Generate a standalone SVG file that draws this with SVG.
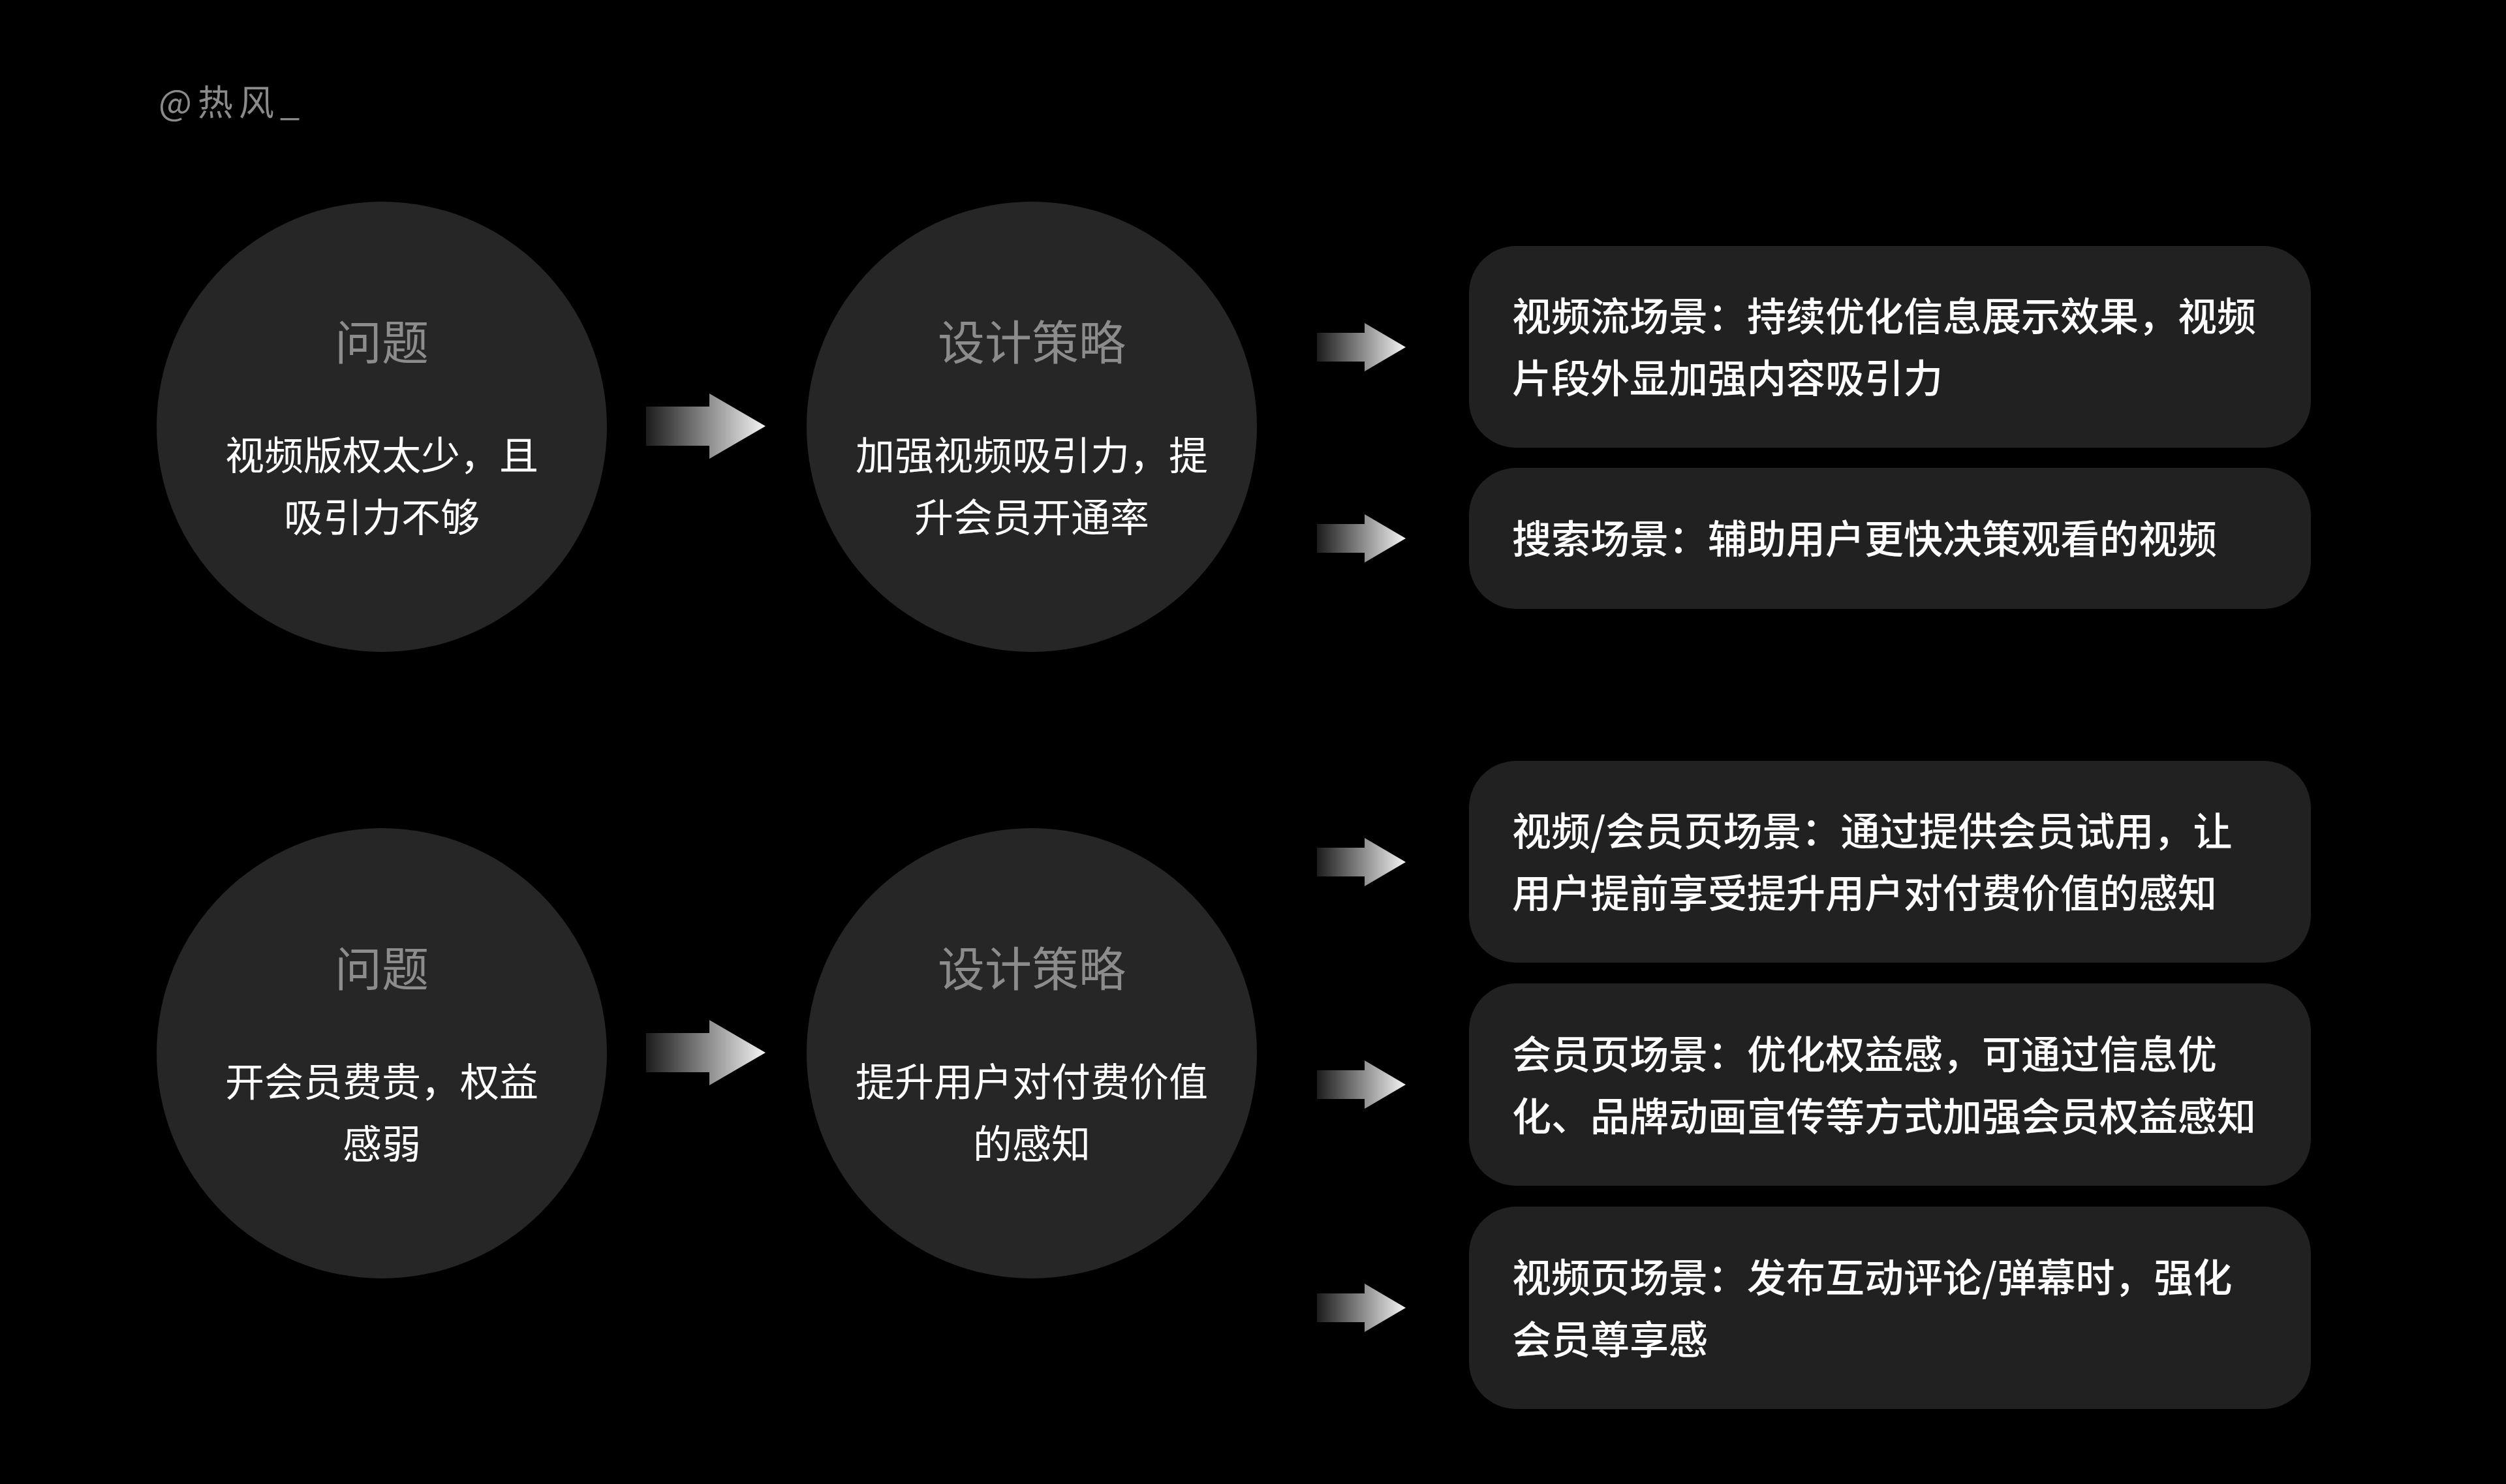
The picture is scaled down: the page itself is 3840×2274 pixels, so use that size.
<svg xmlns="http://www.w3.org/2000/svg" width="3840" height="2274" viewBox="0 0 3840 2274">
<defs>
<linearGradient id="ag" x1="0" y1="0" x2="1" y2="0">
<stop offset="0" stop-color="#1c1c1c"/>
<stop offset="1" stop-color="#f4f4f4"/>
</linearGradient>
<style>
.bg{fill:#000}
.circ{fill:#262626}
.box{fill:#212121}
.t{font-family:"Noto Sans CJK SC","Noto Sans",sans-serif}
.title{fill:#8c8c8c;font-size:72px;text-anchor:middle}
.body{fill:#ffffff;font-size:60px;text-anchor:middle}
.bt{fill:#ffffff;font-size:60px;font-weight:500}
.wm{fill:#8a8a8a;font-size:54px;letter-spacing:9px}
.arrow{fill:url(#ag)}
</style>
</defs>
<rect class="bg" x="0" y="0" width="3840" height="2274"/>
<text class="t wm" x="243" y="177">@热风_</text>

<g id="problem1">
<circle class="circ" cx="585" cy="654" r="345"/>
<text class="t title" x="585" y="551">问题</text>
<text class="t body" x="585" y="720">视频版权太少，且</text>
<text class="t body" x="585" y="815">吸引力不够</text>
</g>
<g id="strategy1">
<circle class="circ" cx="1581" cy="654" r="345"/>
<text class="t title" x="1581" y="551">设计策略</text>
<text class="t body" x="1581" y="720">加强视频吸引力，提</text>
<text class="t body" x="1581" y="815">升会员开通率</text>
</g>
<g id="problem2">
<circle class="circ" cx="585" cy="1614" r="345"/>
<text class="t title" x="585" y="1511">问题</text>
<text class="t body" x="585" y="1680">开会员费贵，权益</text>
<text class="t body" x="585" y="1775">感弱</text>
</g>
<g id="strategy2">
<circle class="circ" cx="1581" cy="1614" r="345"/>
<text class="t title" x="1581" y="1511">设计策略</text>
<text class="t body" x="1581" y="1680">提升用户对付费价值</text>
<text class="t body" x="1581" y="1775">的感知</text>
</g>

<g id="scene1">
<rect class="box" x="2251" y="377" width="1290" height="309" rx="72" ry="72"/>
<text class="t bt" x="2317" y="507">视频流场景：持续优化信息展示效果，视频</text>
<text class="t bt" x="2317" y="602">片段外显加强内容吸引力</text>
</g>
<g id="scene2">
<rect class="box" x="2251" y="717" width="1290" height="216" rx="72" ry="72"/>
<text class="t bt" x="2317" y="848">搜索场景：辅助用户更快决策观看的视频</text>
</g>
<g id="scene3">
<rect class="box" x="2251" y="1166" width="1290" height="309" rx="72" ry="72"/>
<text class="t bt" x="2317" y="1296">视频/会员页场景：通过提供会员试用，让</text>
<text class="t bt" x="2317" y="1391">用户提前享受提升用户对付费价值的感知</text>
</g>
<g id="scene4">
<rect class="box" x="2251" y="1507" width="1290" height="310" rx="72" ry="72"/>
<text class="t bt" x="2317" y="1638">会员页场景：优化权益感，可通过信息优</text>
<text class="t bt" x="2317" y="1733">化、品牌动画宣传等方式加强会员权益感知</text>
</g>
<g id="scene5">
<rect class="box" x="2251" y="1849" width="1290" height="310" rx="72" ry="72"/>
<text class="t bt" x="2317" y="1980">视频页场景：发布互动评论/弹幕时，强化</text>
<text class="t bt" x="2317" y="2075">会员尊享感</text>
</g>

<g id="connectors">
<polygon class="arrow" points="990,623 1087,623 1087,603 1173,653 1087,703 1087,683 990,683"/>
<polygon class="arrow" points="990,1583 1087,1583 1087,1563 1173,1613 1087,1663 1087,1643 990,1643"/>
<polygon class="arrow" points="2018,510 2091,510 2091,495 2154,532 2091,569 2091,554 2018,554"/>
<polygon class="arrow" points="2018,803 2091,803 2091,788 2154,825 2091,862 2091,847 2018,847"/>
<polygon class="arrow" points="2018,1299 2091,1299 2091,1284 2154,1321 2091,1358 2091,1343 2018,1343"/>
<polygon class="arrow" points="2018,1640 2091,1640 2091,1625 2154,1662 2091,1699 2091,1684 2018,1684"/>
<polygon class="arrow" points="2018,1982 2091,1982 2091,1967 2154,2004 2091,2041 2091,2026 2018,2026"/>
</g>
</svg>
